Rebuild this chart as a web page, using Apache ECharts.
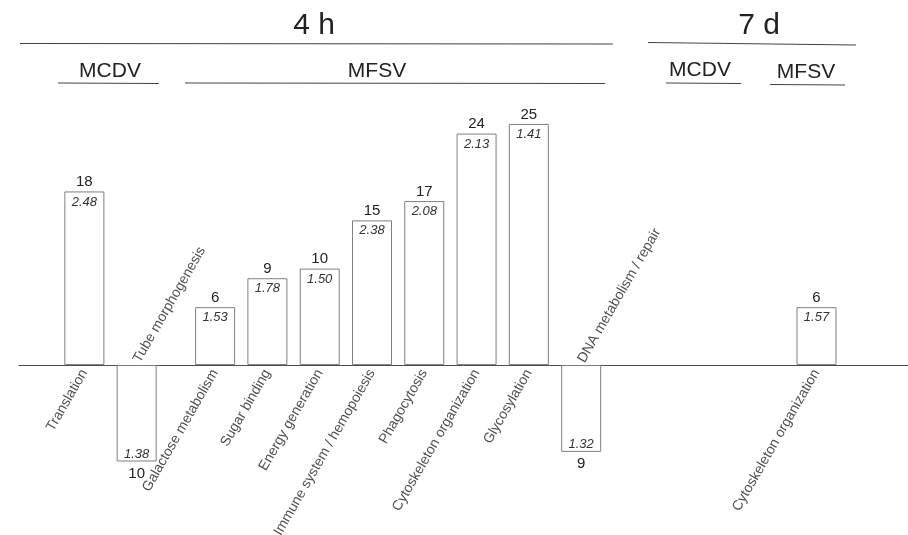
<!DOCTYPE html>
<html>
<head>
<meta charset="utf-8">
<script src="https://cdn.jsdelivr.net/npm/echarts@6/dist/echarts.min.js"></script>
<style>
  html, body { margin: 0; padding: 0; background: #fff; }
  #chart { width: 908px; height: 535px; }
</style>
</head>
<body>
<div id="chart"></div>
<script>
// Category slots (blank entries are gaps between groups)
const categories = [
  '', '', 'Translation', '', 'Tube morphogenesis', '', '',
  'Galactose metabolism', '', 'Sugar binding', '', 'Energy generation', '',
  'Immune system / hemopoiesis', '', 'Phagocytosis', '', 'Cytoskeleton organization', '',
  'Glycosylation', '', 'DNA metabolism / repair', '', '', '', '', '', '', '',
  '', 'Cytoskeleton organization', '', '', ''
];
// Number of genes (negative = drawn below the axis)
const counts = [
  null, null, 18, null, -10, null, null,
  6, null, 9, null, 10, null,
  15, null, 17, null, 24, null,
  25, null, -9, null, null, null, null, null, null, null,
  null, 6, null, null, null
];
// Enrichment ratios shown inside the bars
const ratios = [
  null, null, '2.48', null, '1.38', null, null,
  '1.53', null, '1.78', null, '1.50', null,
  '2.38', null, '2.08', null, '2.13', null,
  '1.41', null, '1.32', null, null, null, null, null, null, null,
  null, '1.57', null, null, null
];
// Header annotations
const timeLabels = ['4 h', '7 d'];
const groupLabels = ['MCDV', 'MFSV', 'MCDV', 'MFSV'];

const FONT = "'Liberation Sans', Arial, Helvetica, sans-serif";
const TXT = '#222';

const chart = echarts.init(document.getElementById('chart'), null, { renderer: 'canvas' });

const ratioData = counts.map((v, i) => v == null ? '-' : {
  value: v,
  label: { position: v < 0 ? 'insideBottom' : 'insideTop', distance: v < 0 ? 1 : 4 }
});
const countData = counts.map((v, i) => v == null ? '-' : {
  value: v,
  label: { position: v < 0 ? 'bottom' : 'top', distance: v < 0 ? 5 : 2 }
});
// Category names: below the axis for positive bars, above it for negative bars
const nameData = counts.map((v, i) => v == null ? '-' : {
  value: 0,
  label: {
    show: true,
    formatter: categories[i],
    position: v < 0 ? 'top' : 'bottom',
    align: v < 0 ? 'left' : 'right',
    distance: v < 0 ? 3 : 5
  }
});

function hline(x1, y1, x2, y2) {
  return { type: 'line', shape: { x1, y1, x2, y2 }, style: { stroke: '#444', lineWidth: 1.2 }, silent: true };
}
function htext(x, y, text, size) {
  return { type: 'text', x, y, style: { text, font: size + 'px ' + FONT, fill: TXT, align: 'center', verticalAlign: 'middle' }, silent: true };
}

const option = {
  animation: false,
  backgroundColor: '#fff',
  grid: { left: 19, right: 0, top: 95, bottom: 6, containLabel: false, outerBoundsMode: 'none' },
  xAxis: {
    type: 'category',
    data: categories,
    axisLine: { show: true, onZero: true, lineStyle: { color: '#4d4d4d', width: 1 } },
    axisTick: { show: false },
    splitLine: { show: false },
    axisLabel: { show: false }
  },
  yAxis: {
    type: 'value',
    min: -17,
    max: 28,
    show: false,
    splitLine: { show: false }
  },
  graphic: [
    htext(314, 26, timeLabels[0], 30),
    hline(20, 43.5, 613, 44),
    htext(759, 26, timeLabels[1], 30),
    hline(648, 42.5, 856, 45),
    htext(110, 71, groupLabels[0], 21),
    hline(58, 83, 159, 83.5),
    htext(377, 71, groupLabels[1], 21),
    hline(185, 83, 605, 83.5),
    htext(700, 70, groupLabels[2], 21),
    hline(666, 83, 741, 83.5),
    htext(806, 72, groupLabels[3], 21),
    hline(770, 84.5, 845, 85)
  ],
  series: [
    {
      name: 'ratio',
      type: 'bar',
      data: ratioData,
      barWidth: 40,
      barGap: '-100%',
      itemStyle: { color: '#fff', borderColor: '#7f7f7f', borderWidth: 1 },
      label: {
        show: true,
        fontFamily: FONT,
        fontSize: 13,
        fontStyle: 'italic',
        color: '#333',
        formatter: p => ratios[p.dataIndex]
      },
      silent: true
    },
    {
      name: 'count',
      type: 'bar',
      data: countData,
      barWidth: 40,
      barGap: '-100%',
      itemStyle: { color: 'rgba(0,0,0,0)', borderWidth: 0 },
      label: {
        show: true,
        fontFamily: FONT,
        fontSize: 15,
        color: TXT,
        formatter: p => String(Math.abs(counts[p.dataIndex]))
      },
      silent: true,
      z: 3
    },
    {
      name: 'names',
      type: 'scatter',
      data: nameData,
      symbolSize: 1,
      itemStyle: { color: 'rgba(0,0,0,0)' },
      label: {
        show: true,
        rotate: 60,
        verticalAlign: 'middle',
        fontFamily: FONT,
        fontSize: 14,
        color: TXT
      },
      silent: true,
      z: 4
    }
  ]
};

chart.setOption(option);
</script>
</body>
</html>
